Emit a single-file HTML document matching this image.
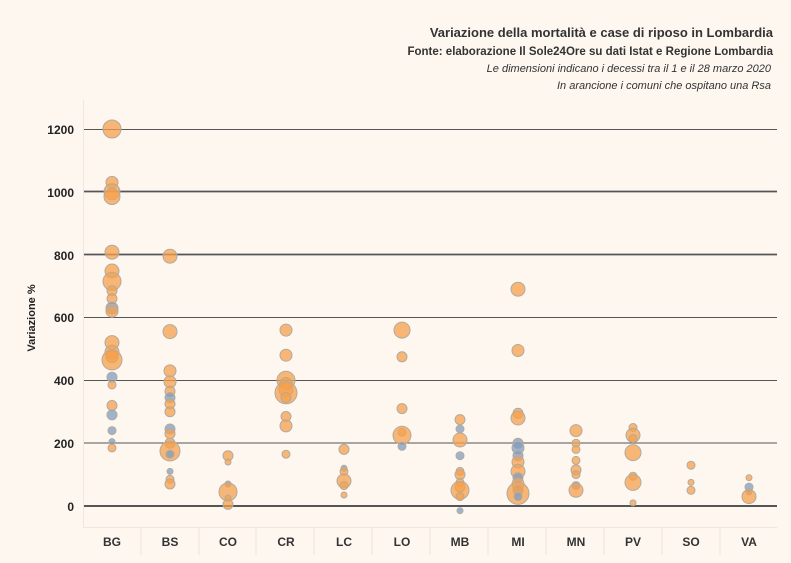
<!DOCTYPE html>
<html><head><meta charset="utf-8"><style>
body{margin:0;background:#fdf7f0;}
svg{display:block;font-family:"Liberation Sans",sans-serif;}
.o{fill:#f5a04e;fill-opacity:.75;stroke:#b3aa9c;stroke-width:1}
.b{fill:#7f9cc2;fill-opacity:.75;stroke:#b3aa9c;stroke-width:1}
</style></head><body>
<svg width="791" height="563" viewBox="0 0 791 563">
<rect width="791" height="563" fill="#fdf7f0"/>
<g text-anchor="end" fill="#333">
<text x="773" y="37" font-size="13" font-weight="bold">Variazione della mortalità e case di riposo in Lombardia</text>
<text x="773" y="55" font-size="11.5" font-weight="bold">Fonte: elaborazione Il Sole24Ore su dati Istat e Regione Lombardia</text>
<text x="771" y="72" font-size="11" font-style="italic">Le dimensioni indicano i decessi tra il 1 e il 28 marzo 2020</text>
<text x="771" y="89" font-size="11" font-style="italic">In arancione i comuni che ospitano una Rsa</text>
</g>
<g stroke="#f0e6da" stroke-width="1">
<line x1="83.5" y1="100" x2="83.5" y2="527"/>
<line x1="83" y1="527.5" x2="777" y2="527.5"/>
<line x1="141" y1="527" x2="141" y2="555"/><line x1="199" y1="527" x2="199" y2="555"/><line x1="256" y1="527" x2="256" y2="555"/><line x1="314" y1="527" x2="314" y2="555"/><line x1="372" y1="527" x2="372" y2="555"/><line x1="430" y1="527" x2="430" y2="555"/><line x1="488" y1="527" x2="488" y2="555"/><line x1="546" y1="527" x2="546" y2="555"/><line x1="604" y1="527" x2="604" y2="555"/><line x1="662" y1="527" x2="662" y2="555"/><line x1="720" y1="527" x2="720" y2="555"/>
</g>
<g stroke="#555">
<line x1="84" y1="129.5" x2="777" y2="129.5" stroke-width="1"/>
<line x1="84" y1="191.5" x2="777" y2="191.5" stroke-width="1.8"/>
<line x1="84" y1="254.5" x2="777" y2="254.5" stroke-width="1.8"/>
<line x1="84" y1="317.5" x2="777" y2="317.5" stroke-width="1"/>
<line x1="84" y1="380.5" x2="777" y2="380.5" stroke-width="1"/>
<line x1="84" y1="443" x2="777" y2="443" stroke-width="1"/>
<line x1="84" y1="506" x2="777" y2="506" stroke-width="2"/>
</g>
<g text-anchor="end" font-size="12" font-weight="bold" fill="#222">
<text x="74" y="134">1200</text><text x="74" y="197">1000</text><text x="74" y="260">800</text><text x="74" y="322">600</text><text x="74" y="385">400</text><text x="74" y="448">200</text><text x="74" y="511">0</text>
</g>
<text transform="translate(35,318) rotate(-90)" text-anchor="middle" font-size="11" font-weight="bold" fill="#222">Variazione %</text>
<g text-anchor="middle" font-size="12" font-weight="bold" fill="#333">
<text x="112" y="546">BG</text><text x="170" y="546">BS</text><text x="228" y="546">CO</text><text x="286" y="546">CR</text><text x="344" y="546">LC</text><text x="402" y="546">LO</text><text x="460" y="546">MB</text><text x="518" y="546">MI</text><text x="576" y="546">MN</text><text x="633" y="546">PV</text><text x="691" y="546">SO</text><text x="749" y="546">VA</text>
</g>
<!-- BG -->
<circle class="o" cx="112" cy="129" r="9"/><circle class="o" cx="112" cy="182.4" r="6"/><circle class="o" cx="112" cy="191.8" r="8"/><circle class="o" cx="112" cy="196.5" r="8"/><circle class="o" cx="112" cy="252.2" r="7"/><circle class="o" cx="112" cy="271" r="7"/><circle class="o" cx="112" cy="281.4" r="9"/><circle class="o" cx="112" cy="290.8" r="5"/><circle class="o" cx="112" cy="298.6" r="5"/><circle class="b" cx="112" cy="308.1" r="6"/><circle class="o" cx="112" cy="311.2" r="6"/><circle class="o" cx="112" cy="342.6" r="7"/><circle class="o" cx="112" cy="352.1" r="7"/><circle class="o" cx="112" cy="356.8" r="6"/><circle class="o" cx="112" cy="359.9" r="10"/><circle class="b" cx="112" cy="377.2" r="5"/><circle class="o" cx="112" cy="385" r="4"/><circle class="o" cx="112" cy="405.5" r="5"/><circle class="b" cx="112" cy="414.9" r="5"/><circle class="b" cx="112" cy="430.6" r="4"/><circle class="b" cx="112" cy="441.6" r="3"/><circle class="o" cx="112" cy="447.9" r="4"/>
<!-- BS -->
<circle class="o" cx="170" cy="256.2" r="7"/><circle class="o" cx="170" cy="331.6" r="7"/><circle class="o" cx="170" cy="370.9" r="6"/><circle class="o" cx="170" cy="381.9" r="6"/><circle class="o" cx="170" cy="391.3" r="5"/><circle class="b" cx="170" cy="397.6" r="5"/><circle class="o" cx="170" cy="403.9" r="5"/><circle class="o" cx="170" cy="411.7" r="5"/><circle class="b" cx="170" cy="429" r="5"/><circle class="o" cx="170" cy="433.7" r="5"/><circle class="o" cx="170" cy="443.2" r="5"/><circle class="o" cx="170" cy="451" r="10"/><circle class="b" cx="170" cy="454.2" r="4"/><circle class="b" cx="170" cy="471.4" r="3"/><circle class="o" cx="170" cy="479.3" r="4"/><circle class="o" cx="170" cy="484" r="5"/>
<!-- CO -->
<circle class="o" cx="228" cy="455.7" r="5"/><circle class="o" cx="228" cy="462" r="3"/><circle class="b" cx="228" cy="484" r="3"/><circle class="o" cx="228" cy="491.9" r="9"/><circle class="o" cx="228" cy="498.1" r="3"/><circle class="o" cx="228" cy="504.4" r="5"/>
<!-- CR -->
<circle class="o" cx="286" cy="330.1" r="6"/><circle class="o" cx="286" cy="355.2" r="6"/><circle class="o" cx="286" cy="380.3" r="9"/><circle class="o" cx="286" cy="383.5" r="6"/><circle class="o" cx="286" cy="389.8" r="7"/><circle class="o" cx="286" cy="392.9" r="11"/><circle class="o" cx="286" cy="397.6" r="5"/><circle class="o" cx="286" cy="416.5" r="5"/><circle class="o" cx="286" cy="425.9" r="6"/><circle class="o" cx="286" cy="454.2" r="4"/>
<!-- LC -->
<circle class="o" cx="344" cy="449.4" r="5"/><circle class="b" cx="344" cy="468.3" r="3"/><circle class="o" cx="344" cy="471.4" r="4"/><circle class="o" cx="344" cy="480.9" r="7"/><circle class="o" cx="344" cy="485.6" r="4"/><circle class="o" cx="344" cy="495" r="3"/>
<!-- LO -->
<circle class="o" cx="402" cy="330.1" r="8"/><circle class="o" cx="402" cy="356.8" r="5"/><circle class="o" cx="402" cy="408.6" r="5"/><circle class="o" cx="402" cy="432.2" r="4"/><circle class="o" cx="402" cy="435.3" r="9"/><circle class="b" cx="402" cy="446.3" r="4"/>
<!-- MB -->
<circle class="o" cx="460" cy="419.6" r="5"/><circle class="b" cx="460" cy="429" r="4"/><circle class="o" cx="460" cy="440" r="7"/><circle class="b" cx="460" cy="455.7" r="4"/><circle class="o" cx="460" cy="471.4" r="4"/><circle class="o" cx="460" cy="474.6" r="5"/><circle class="o" cx="460" cy="482.4" r="4"/><circle class="o" cx="460" cy="487.1" r="5"/><circle class="o" cx="460" cy="490.3" r="9"/><circle class="o" cx="460" cy="496.6" r="4"/><circle class="b" cx="460" cy="510.7" r="3"/>
<!-- MI -->
<circle class="o" cx="518" cy="289.2" r="7"/><circle class="o" cx="518" cy="350.5" r="6"/><circle class="o" cx="518" cy="413.3" r="5"/><circle class="o" cx="518" cy="418" r="7"/><circle class="b" cx="518" cy="443.2" r="5"/><circle class="b" cx="518" cy="447.9" r="6"/><circle class="b" cx="518" cy="455.7" r="5"/><circle class="o" cx="518" cy="462" r="6"/><circle class="o" cx="518" cy="471.4" r="7"/><circle class="b" cx="518" cy="477.7" r="5"/><circle class="o" cx="518" cy="484" r="6"/><circle class="b" cx="518" cy="490.3" r="5"/><circle class="o" cx="518" cy="493.4" r="11"/><circle class="b" cx="518" cy="496.6" r="4"/>
<!-- MN -->
<circle class="o" cx="576" cy="430.6" r="6"/><circle class="o" cx="576" cy="443.2" r="4"/><circle class="o" cx="576" cy="449.4" r="4"/><circle class="o" cx="576" cy="460.4" r="4"/><circle class="o" cx="576" cy="469.9" r="5"/><circle class="o" cx="576" cy="474.6" r="4"/><circle class="b" cx="576" cy="485.6" r="4"/><circle class="o" cx="576" cy="490.3" r="7"/>
<!-- PV -->
<circle class="o" cx="633" cy="427.5" r="4"/><circle class="o" cx="633" cy="435.3" r="7"/><circle class="o" cx="633" cy="438.5" r="4"/><circle class="o" cx="633" cy="452.6" r="8"/><circle class="o" cx="633" cy="476.2" r="4"/><circle class="o" cx="633" cy="482.4" r="8"/><circle class="o" cx="633" cy="502.9" r="3"/>
<!-- SO -->
<circle class="o" cx="691" cy="465.2" r="4"/><circle class="o" cx="691" cy="482.4" r="3"/><circle class="o" cx="691" cy="490.3" r="4"/>
<!-- VA -->
<circle class="o" cx="749" cy="477.7" r="3"/><circle class="b" cx="749" cy="487.1" r="4"/><circle class="b" cx="749" cy="491.9" r="3"/><circle class="o" cx="749" cy="496.6" r="7"/>
</svg>
</body></html>
